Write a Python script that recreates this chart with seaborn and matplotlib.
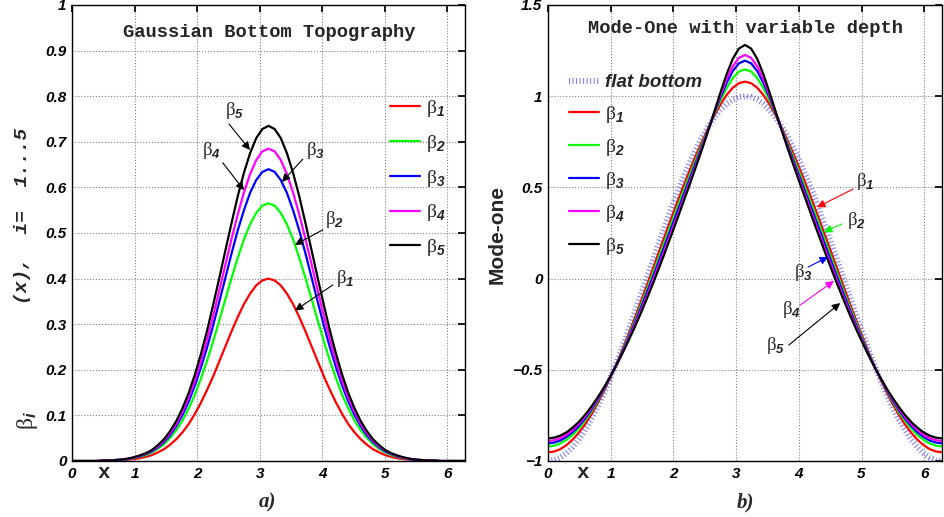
import numpy as np
import pandas as pd
import seaborn as sns
import matplotlib
matplotlib.use("Agg")
import matplotlib.pyplot as plt

# ---------------------------------------------------------------------------
# Profiles sampled at x = k*pi/32, k = 0..32 (half period); every profile is
# symmetric about x = pi, so the second half is the mirror of the first.
# ---------------------------------------------------------------------------
x_half = np.linspace(0, np.pi, 33)

# Gaussian bottom topography beta_i(x)
beta1 = [0, 0, 0, 0, 0, 0, 0.001, 0.001, 0.002, 0.003, 0.004, 0.006, 0.009, 0.013, 0.019, 0.026, 0.036,
         0.048, 0.063, 0.081, 0.103, 0.128, 0.156, 0.186, 0.219, 0.252, 0.285, 0.316, 0.344, 0.367, 0.385,
         0.396, 0.400]
beta2 = [0, 0, 0, 0, 0, 0.001, 0.001, 0.002, 0.002, 0.004, 0.006, 0.009, 0.013, 0.019, 0.027, 0.037,
         0.051, 0.068, 0.089, 0.115, 0.145, 0.181, 0.220, 0.263, 0.309, 0.356, 0.402, 0.446, 0.486, 0.519,
         0.544, 0.560, 0.565]
beta3 = [0, 0, 0, 0, 0, 0.001, 0.001, 0.002, 0.003, 0.004, 0.007, 0.010, 0.015, 0.021, 0.030, 0.042,
         0.057, 0.077, 0.101, 0.130, 0.165, 0.205, 0.249, 0.298, 0.350, 0.403, 0.456, 0.506, 0.550, 0.588,
         0.616, 0.634, 0.640]
beta4 = [0, 0, 0, 0, 0, 0.001, 0.001, 0.002, 0.003, 0.005, 0.007, 0.011, 0.016, 0.023, 0.032, 0.045,
         0.061, 0.082, 0.108, 0.139, 0.176, 0.219, 0.267, 0.319, 0.375, 0.432, 0.488, 0.541, 0.589, 0.629,
         0.660, 0.679, 0.685]
beta5 = [0, 0, 0, 0, 0, 0.001, 0.001, 0.002, 0.003, 0.005, 0.008, 0.012, 0.017, 0.024, 0.035, 0.048,
         0.066, 0.088, 0.116, 0.149, 0.189, 0.235, 0.286, 0.343, 0.402, 0.463, 0.523, 0.581, 0.632, 0.675,
         0.708, 0.728, 0.735]

# Mode-one over a flat bottom and over each topography
flat_bottom = [-1.000, -0.995, -0.981, -0.957, -0.924, -0.882, -0.831, -0.773, -0.707, -0.634, -0.556,
               -0.471, -0.383, -0.290, -0.195, -0.098, 0.000, 0.098, 0.195, 0.290, 0.383, 0.471, 0.556,
               0.634, 0.707, 0.773, 0.831, 0.882, 0.924, 0.957, 0.981, 0.995, 1.000]
mode_beta1 = [-0.952, -0.948, -0.935, -0.913, -0.883, -0.845, -0.800, -0.747, -0.688, -0.623, -0.552,
              -0.476, -0.395, -0.311, -0.224, -0.134, -0.042, 0.051, 0.144, 0.237, 0.329, 0.419, 0.507,
              0.592, 0.674, 0.751, 0.825, 0.893, 0.954, 1.006, 1.046, 1.071, 1.080]
mode_beta2 = [-0.920, -0.916, -0.904, -0.884, -0.857, -0.822, -0.780, -0.731, -0.676, -0.615, -0.549,
              -0.478, -0.402, -0.323, -0.240, -0.154, -0.066, 0.025, 0.116, 0.208, 0.299, 0.390, 0.479,
              0.566, 0.652, 0.736, 0.819, 0.900, 0.976, 1.044, 1.099, 1.135, 1.147]
mode_beta3 = [-0.903, -0.899, -0.888, -0.868, -0.842, -0.808, -0.768, -0.721, -0.669, -0.611, -0.547,
              -0.479, -0.407, -0.331, -0.251, -0.168, -0.082, 0.005, 0.095, 0.185, 0.276, 0.366, 0.456,
              0.546, 0.635, 0.724, 0.815, 0.905, 0.993, 1.072, 1.137, 1.180, 1.195]
mode_beta4 = [-0.890, -0.886, -0.875, -0.856, -0.830, -0.797, -0.758, -0.713, -0.662, -0.606, -0.546,
              -0.481, -0.412, -0.339, -0.262, -0.182, -0.100, -0.014, 0.074, 0.163, 0.254, 0.345, 0.437,
              0.529, 0.622, 0.716, 0.812, 0.910, 1.004, 1.091, 1.163, 1.210, 1.226]
mode_beta5 = [-0.876, -0.872, -0.861, -0.843, -0.817, -0.786, -0.748, -0.704, -0.655, -0.602, -0.544,
              -0.482, -0.416, -0.346, -0.273, -0.196, -0.115, -0.032, 0.055, 0.144, 0.235, 0.327, 0.421,
              0.514, 0.610, 0.707, 0.808, 0.913, 1.019, 1.119, 1.204, 1.261, 1.281]

x_ticks = [0, 1, 2, 3, 4, 5, 6]
left_yticks = [0, 0.1, 0.2, 0.3, 0.4, 0.5, 0.6, 0.7, 0.8, 0.9, 1]
left_ylabels = ["0", "0.1", "0.2", "0.3", "0.4", "0.5", "0.6", "0.7", "0.8", "0.9", "1"]
right_yticks = [-1, -0.5, 0, 0.5, 1, 1.5]
right_ylabels = ["\u22121", "\u22120.5", "0", "0.5", "1", "1.5"]

sns.set_theme(style="white")
plt.rcParams.update({
    "font.family": ["Liberation Sans", "DejaVu Sans"],
    "mathtext.fontset": "custom",
    "mathtext.rm": "Liberation Serif",
    "mathtext.it": "Liberation Sans:bold:italic",
    "mathtext.bf": "Liberation Sans:bold:italic",
})


def full(h):
    """Mirror a half-period profile about x = pi."""
    h = np.asarray(h, dtype=float)
    return np.concatenate([h, h[-2::-1]])


x = np.concatenate([x_half, 2 * np.pi - x_half[-2::-1]])
left = [beta1, beta2, beta3, beta4, beta5]
right = [mode_beta1, mode_beta2, mode_beta3, mode_beta4, mode_beta5]
colors = ["#ff0000", "#00ff00", "#0000ff", "#ff00ff", "#000000"]
blabels = [r"$\mathrm{\beta}_{\mathbf{%d}}$" % (i + 1) for i in range(5)]

fig = plt.figure(figsize=(9.45, 5.17), dpi=100)
ax1 = fig.add_axes([72 / 945, 1 - 461 / 517, 393 / 945, 456 / 517])
ax2 = fig.add_axes([548 / 945, 1 - 461 / 517, 394 / 945, 456 / 517])

for i in range(5):
    sns.lineplot(x=x, y=full(left[i]), ax=ax1, color=colors[i], lw=1.6, sort=False,
                 estimator=None, label=blabels[i])
sns.lineplot(x=x, y=full(flat_bottom), ax=ax2, color="#5a5aff", lw=4.3, sort=False, estimator=None,
             linestyle=(0, (0.17, 0.42)), dash_capstyle="butt", alpha=0.8, label="flat bottom")
for i in range(5):
    sns.lineplot(x=x, y=full(right[i]), ax=ax2, color=colors[i], lw=1.6, sort=False,
                 estimator=None, label=blabels[i])

tickfont = dict(fontweight="bold", fontstyle="italic", fontsize=11)
for ax in (ax1, ax2):
    ax.set_xlim(0, 2 * np.pi)
    ax.set_xticks(x_ticks)
    ax.set_xticklabels([str(v) for v in x_ticks], **tickfont)
    ax.grid(True, linestyle=":", color="0.5", lw=0.8)
    ax.tick_params(direction="in", length=5, top=True, right=True, pad=4, colors="black")
    for sp in ax.spines.values():
        sp.set_color("black")
        sp.set_linewidth(1.0)
    ax.set_xlabel("")
    ax.set_ylabel("")
ax1.set_ylim(0, 1)
ax1.set_yticks(left_yticks)
ax1.set_yticklabels(left_ylabels, **tickfont)
ax2.set_ylim(-1, 1.5)
ax2.set_yticks(right_yticks)
ax2.set_yticklabels(right_ylabels, **tickfont)

# legends without frames, in the upper corners
ax1.legend(loc="upper left", bbox_to_anchor=(0.809, 0.796), frameon=False, fontsize=14,
           handlelength=1.55, handletextpad=0.3, labelspacing=0.71, borderpad=0, borderaxespad=0)
leg2 = ax2.legend(loc="upper left", bbox_to_anchor=(0.053, 0.849), frameon=False, fontsize=14,
                  handlelength=1.55, handletextpad=0.3, labelspacing=0.62, borderpad=0, borderaxespad=0)
t0 = leg2.get_texts()[0]
t0.set_fontweight("bold")
t0.set_fontstyle("italic")
t0.set_fontsize(13.5)

# panel titles inside the axes
ax1.text(0.501, 0.939, "Gaussian Bottom Topography", transform=ax1.transAxes, ha="center", va="center",
         family="Liberation Mono", fontweight="bold", fontsize=13.5)
ax2.text(0.5, 0.948, "Mode-One with variable depth", transform=ax2.transAxes, ha="center", va="center",
         family="Liberation Mono", fontweight="bold", fontsize=13.5)

# curve labels with arrows: (label position, arrow tail, arrow head)
ann1 = [((2.606, 0.768), (2.51, 0.739), (2.846, 0.682)),
        ((2.222, 0.682), (2.41, 0.654), (2.75, 0.594)),
        ((3.885, 0.682), (3.69, 0.662), (3.357, 0.612)),
        ((4.189, 0.529), (4.01, 0.507), (3.565, 0.474)),
        ((4.365, 0.401), (4.17, 0.386), (3.565, 0.33))]
for i, (lab, tail, head) in zip([4, 3, 2, 1, 0], ann1):
    ax1.annotate("", xy=head, xytext=tail,
                 arrowprops=dict(arrowstyle="-|>", color="black", lw=0.8, mutation_scale=12,
                                 shrinkA=0, shrinkB=0))
    ax1.text(*lab, blabels[i], ha="center", va="center", fontsize=13.5)
ann2 = [((5.056, 0.53), (4.865, 0.491), (4.29, 0.391)),
        ((4.912, 0.32), (4.69, 0.30), (4.40, 0.255)),
        ((4.067, 0.036), (4.147, 0.063), (4.466, 0.119)),
        ((3.876, -0.172), (4.02, -0.145), (4.56, -0.013)),
        ((3.636, -0.369), (3.84, -0.364), (4.66, -0.134))]
for i, (lab, tail, head) in enumerate(ann2):
    ax2.annotate("", xy=head, xytext=tail,
                 arrowprops=dict(arrowstyle="-|>", color=colors[i], lw=0.8, mutation_scale=12,
                                 shrinkA=0, shrinkB=0))
    ax2.text(*lab, blabels[i], ha="center", va="center", fontsize=13.5)

# axis words and panel letters
for ax, xpos in ((ax1, 0.51), (ax2, 0.56)):
    ax.text(xpos, -0.026, "x", transform=ax.get_xaxis_transform(), ha="center", va="center",
            family="Liberation Mono", fontweight="bold", fontsize=15)
fig.text(268 / 945, 1 - 502 / 517, "a)", ha="center", va="center", family="Liberation Serif",
         fontweight="bold", fontstyle="italic", fontsize=15)
fig.text(745 / 945, 1 - 502 / 517, "b)", ha="center", va="center", family="Liberation Serif",
         fontweight="bold", fontstyle="italic", fontsize=15)
fig.text(27 / 945, 1 - 420 / 517, r"$\mathrm{\beta}_{\mathbf{i}}$", rotation=90,
         ha="center", va="center", fontsize=17)
fig.text(23 / 945, 1 - 216 / 517, "(x),  i=  1...5", rotation=90,
         ha="center", va="center", family="Liberation Mono", fontweight="bold", fontstyle="italic",
         fontsize=14)
fig.text(497 / 945, 1 - 234 / 517, "Mode-one", rotation=90, ha="center", va="center",
         fontweight="bold", fontsize=15)

fig.savefig("out.png", dpi=100)
